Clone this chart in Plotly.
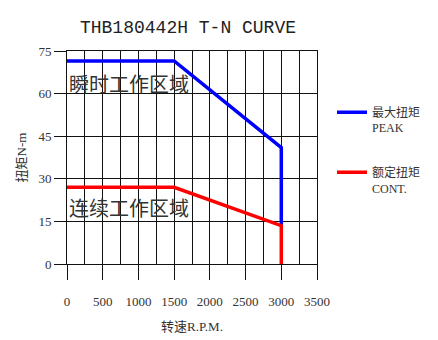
import plotly.graph_objects as go

speed_peak = [0, 1500, 3000, 3000]
torque_peak = [71.5, 71.5, 41.0, 13.5]
speed_cont = [0, 1500, 3000, 3000]
torque_cont = [27.0, 27.0, 13.5, 0]

title_text = "THB180442H T-N CURVE"
peak_name = "最大扭矩<br>PEAK"
cont_name = "额定扭矩<br>CONT."
zone_peak = "瞬时工作区域"
zone_cont = "连续工作区域"
x_title = "转速R.P.M."
y_title = "扭矩N-m"
x_ticks = [0, 500, 1000, 1500, 2000, 2500, 3000, 3500]
y_ticks = [0, 15, 30, 45, 60, 75]

SERIF = "Liberation Serif, Noto Sans CJK SC"
GRID = "#111111"

fig = go.Figure()
fig.add_trace(go.Scatter(x=speed_peak, y=torque_peak, mode="lines", name=peak_name,
                         line=dict(color="#0000FF", width=3.5), legendgroup="a"))
fig.add_trace(go.Scatter(x=speed_cont, y=torque_cont, mode="lines", name=cont_name,
                         line=dict(color="#FF0000", width=3.5), legendgroup="b"))

fig.add_annotation(x=0, y=63.7, xref="x", yref="y", text=zone_peak, showarrow=False,
                   xanchor="left", yanchor="middle", xshift=0,
                   font=dict(family="Noto Sans CJK SC", size=20, color="#333333"))
fig.add_annotation(x=0, y=20, xref="x", yref="y", text=zone_cont, showarrow=False,
                   xanchor="left", yanchor="middle", xshift=0,
                   font=dict(family="Noto Sans CJK SC", size=20, color="#333333"))

fig.update_layout(
    width=438, height=340,
    margin=dict(l=67, r=121, t=51, b=76),
    paper_bgcolor="white", plot_bgcolor="white",
    title=dict(text=title_text, x=188/438, xanchor="center", y=1-27/340, yanchor="middle",
               font=dict(family="Liberation Mono", size=18, color="#222222")),
    showlegend=True,
    legend=dict(x=1.06, y=0.78, xanchor="left", yanchor="top", valign="top",
                traceorder="grouped", tracegroupgap=26, itemwidth=30,
                font=dict(family=SERIF, size=12, color="#333333"),
                bgcolor="rgba(0,0,0,0)"),
    xaxis=dict(range=[0, 3500], tickvals=x_ticks, ticks="outside", ticklen=15,
               tickcolor=GRID, showgrid=True, gridcolor=GRID, gridwidth=1,
               minor=dict(dtick=250, tick0=0, showgrid=True, gridcolor=GRID, gridwidth=1, ticks=""),
               showline=True, mirror=True, linecolor=GRID, zeroline=False,
               ticklabelstandoff=10, automargin=False,
               tickfont=dict(family=SERIF, size=13, color="#333333"),
               title=dict(text=x_title, font=dict(family=SERIF, size=13, color="#333333"), standoff=14)),
    yaxis=dict(range=[0, 75], tickvals=y_ticks, ticks="outside", ticklen=12,
               tickcolor=GRID, showgrid=True, gridcolor=GRID, gridwidth=1,
               showline=True, mirror=True, linecolor=GRID, zeroline=False,
               automargin=False,
               tickfont=dict(family=SERIF, size=13, color="#333333"),
               title=dict(text=y_title, font=dict(family=SERIF, size=13, color="#333333"), standoff=8)),
)

fig.write_html("out.html")
